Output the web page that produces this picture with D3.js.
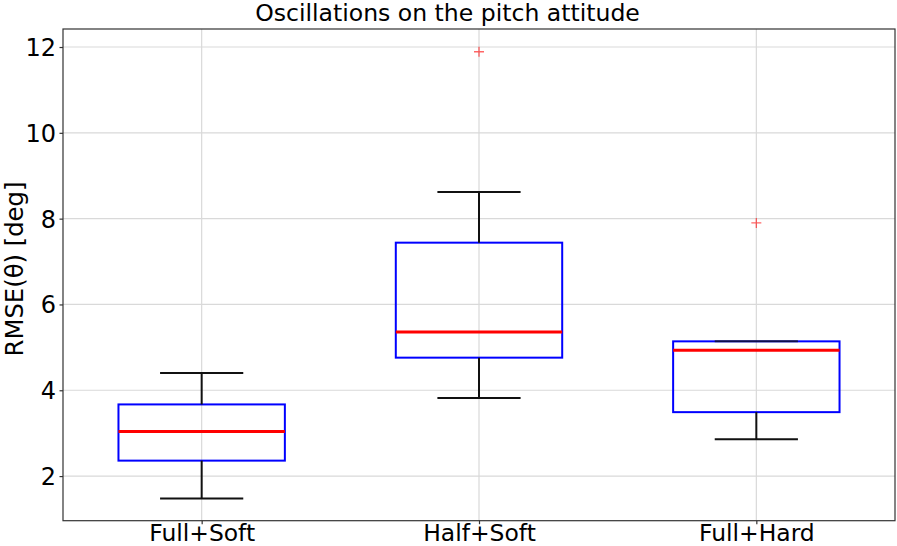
<!DOCTYPE html>
<html><head><meta charset="utf-8">
<script src="https://cdn.jsdelivr.net/npm/d3@7"></script>
<style>body{margin:0;background:#fff}svg{display:block}text{font-family:"DejaVu Sans",sans-serif;fill:#000}</style>
</head><body><svg id="c" width="897" height="546"></svg>
<script>
const categories = ["Full+Soft","Half+Soft","Full+Hard"];
const whiskerLow = [1.48, 3.82, 2.86];
const q1 = [2.36, 4.76, 3.49];
const median = [3.04, 5.36, 4.93];
const q3 = [3.67, 7.44, 5.14];
const whiskerHigh = [4.40, 8.62, 5.14];
const outliers = [[], [11.89], [7.90]];
const yTicks = [2,4,6,8,10,12];

const svg = d3.select("#c");
const L=63, R=895, T=29, B=520.7;
const x = d3.scaleLinear().domain([0.5,3.5]).range([L,R]);
const y = d3.scaleLinear().domain([0.96,12.42]).range([B,T]);
const bw = 0.6, cw = 0.3;

function fitFont(sel, target){
  const n = sel.node(); const fs = parseFloat(sel.style("font-size"));
  const w = n.getComputedTextLength(); sel.style("font-size",(fs*target/w).toFixed(2)+"px");
}

const g = svg.append("g");
g.selectAll(".gy").data(yTicks).join("line").attr("x1",L).attr("x2",R)
 .attr("y1",d=>y(d)).attr("y2",d=>y(d)).attr("stroke","#d9d9d9").attr("stroke-width",1.2);
g.selectAll(".gx").data(categories).join("line").attr("y1",T).attr("y2",B)
 .attr("x1",(d,i)=>x(i+1)).attr("x2",(d,i)=>x(i+1)).attr("stroke","#d9d9d9").attr("stroke-width",1.2);

const data = categories.map((c,i)=>({c,i,lo:whiskerLow[i],q1:q1[i],med:median[i],q3:q3[i],hi:whiskerHigh[i],out:outliers[i]}));
const bx = g.selectAll(".box").data(data).join("g");
bx.append("rect").attr("x",d=>x(d.i+1-bw/2)).attr("width",d=>x(d.i+1+bw/2)-x(d.i+1-bw/2))
 .attr("y",d=>y(d.q3)).attr("height",d=>y(d.q1)-y(d.q3)).attr("fill","none").attr("stroke","#0000ff").attr("stroke-width",2);
bx.append("line").attr("x1",d=>x(d.i+1)).attr("x2",d=>x(d.i+1)).attr("y1",d=>y(d.q1)).attr("y2",d=>y(d.lo)).attr("stroke","#111").attr("stroke-width",2);
bx.append("line").attr("x1",d=>x(d.i+1)).attr("x2",d=>x(d.i+1)).attr("y1",d=>y(d.q3)).attr("y2",d=>y(d.hi)).attr("stroke","#111").attr("stroke-width",2);
bx.append("line").attr("x1",d=>x(d.i+1-cw/2)).attr("x2",d=>x(d.i+1+cw/2)).attr("y1",d=>y(d.lo)).attr("y2",d=>y(d.lo)).attr("stroke","#111").attr("stroke-width",2);
bx.append("line").attr("x1",d=>x(d.i+1-cw/2)).attr("x2",d=>x(d.i+1+cw/2)).attr("y1",d=>y(d.hi)).attr("y2",d=>y(d.hi)).attr("stroke","#111").attr("stroke-width",2).attr("stroke-opacity",d=>d.hi===d.q3?0.75:1);
bx.append("line").attr("x1",d=>x(d.i+1-bw/2)).attr("x2",d=>x(d.i+1+bw/2)).attr("y1",d=>y(d.med)).attr("y2",d=>y(d.med)).attr("stroke","#ff0000").attr("stroke-width",3);
bx.each(function(d){
  d3.select(this).selectAll(".o").data(d.out).join("path")
   .attr("d",v=>`M${x(d.i+1)-5},${y(v)}h10M${x(d.i+1)},${y(v)-5}v10`)
   .attr("stroke","#ff0000").attr("stroke-opacity",0.6).attr("stroke-width",1.3).attr("fill","none");
});

const ya = d3.axisLeft(y).tickValues(yTicks).tickSize(3.5).tickPadding(3.5).tickFormat(d3.format("d"));
const yg = svg.append("g").attr("transform",`translate(${L},0)`).call(ya);
const xa = d3.axisBottom(x).tickValues([1,2,3]).tickSize(3.5).tickPadding(3.5).tickFormat(d=>categories[d-1]);
const xg = svg.append("g").attr("transform",`translate(0,${B})`).call(xa);
[yg,xg].forEach(a=>{a.select(".domain").remove();a.selectAll(".tick line").attr("stroke","#333").attr("stroke-width",1.2);
 a.selectAll("text").style("font-size","24px").attr("fill","#000");});
xg.selectAll("text").attr("dy",null).attr("y",20.5);
fitFont(xg.select(".tick text"),106);
xg.selectAll("text").style("font-size",xg.select(".tick text").style("font-size"));
yg.selectAll("text").attr("dy","0.35em");

svg.append("rect").attr("x",L).attr("y",T).attr("width",R-L).attr("height",B-T).attr("fill","none").attr("stroke","#333").attr("stroke-width",1.2);

const title = svg.append("text").attr("x",447.5).attr("y",21).attr("text-anchor","middle").style("font-size","22px").text("Oscillations on the pitch attitude");
fitFont(title,385);
const yl = svg.append("text").attr("transform",`translate(23,269) rotate(-90)`).attr("text-anchor","middle").style("font-size","23px").text("RMSE(θ) [deg]");
fitFont(yl,175);
</script></body></html>
